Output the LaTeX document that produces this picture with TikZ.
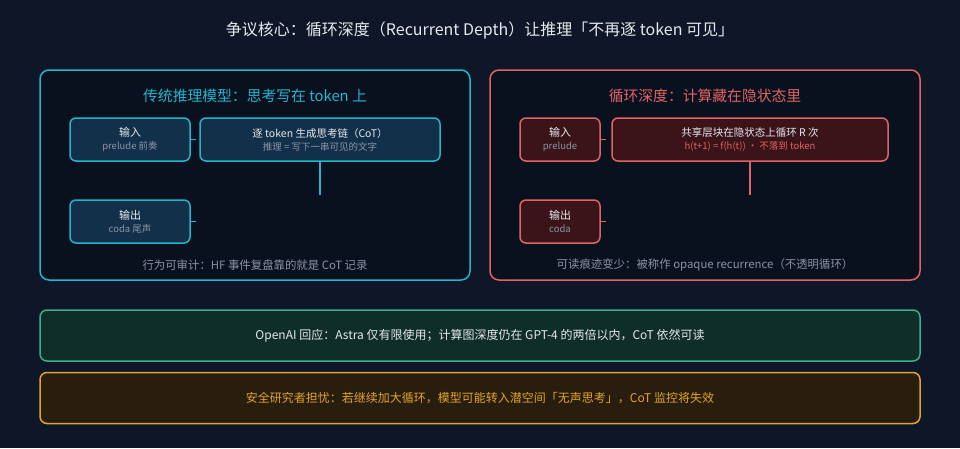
\documentclass[tikz,border=0pt]{standalone}
\usepackage{fontspec}
\setmainfont{Noto Sans CJK SC}
\usetikzlibrary{positioning}
\definecolor{bgcol}{HTML}{0E1628}
\definecolor{panelcol}{HTML}{0A111E}
\definecolor{cyancol}{HTML}{22B5CC}
\definecolor{cyanfill}{HTML}{12304A}
\definecolor{redcol}{HTML}{E06464}
\definecolor{redfill}{HTML}{3A1419}
\definecolor{greencol}{HTML}{34B38A}
\definecolor{greenfill}{HTML}{0F2E28}
\definecolor{orangecol}{HTML}{E0A52C}
\definecolor{orangefill}{HTML}{291D0E}
\definecolor{textcol}{HTML}{E6E8EC}
\definecolor{graycol}{HTML}{8A93A3}
\tikzset{
  panel/.style={line width=1.5pt, rounded corners=9pt, fill=panelcol},
  stage/.style={line width=1.5pt, rounded corners=6pt, align=center, font=\fontsize{11}{14}\selectfont, text=textcol},
  stub/.style={line width=1.5pt},
  banner/.style={line width=1.5pt, rounded corners=7pt, minimum width=880pt, minimum height=51pt, font=\fontsize{12}{14}\selectfont}
}
\begin{document}
\begin{tikzpicture}[x=1pt,y=-1pt]
    \fill[bgcol] (0,0) rectangle (960,448);
    \useasboundingbox (0,0) rectangle (960,448);

    % Title
    \node[text=textcol, font=\fontsize{16}{19}\selectfont] (title) at (480,30) {争议核心：循环深度（Recurrent Depth）让推理「不再逐 token 可见」};

% Left panel
    \draw[panel, draw=cyancol] (40,70) rectangle (470,280);
    \node[text=cyancol, font=\fontsize{14.8}{17}\selectfont] (ltitle) at (255,96) {传统推理模型：思考写在 token 上};
    \node[stage, draw=cyancol, fill=cyanfill, minimum width=120pt, minimum height=43pt] (lin) at (130,139.5)
        {输入\\[-1pt]{\fontsize{9.5}{11}\selectfont\color{graycol}prelude 前奏}};
    \node[stage, draw=cyancol, fill=cyanfill, minimum width=240pt, minimum height=43pt] (lcot) at (320,139.5)
        {{\fontsize{10.5}{12}\selectfont 逐 token 生成思考链（CoT）}\\[-1pt]{\fontsize{9.5}{11}\selectfont\color{graycol}推理 = 写下一串可见的文字}};
    \node[stage, draw=cyancol, fill=cyanfill, minimum width=120pt, minimum height=43pt] (lout) at (130,221.5)
        {输出\\[-1pt]{\fontsize{9.5}{11}\selectfont\color{graycol}coda 尾声}};
    \draw[stub, draw=cyancol] (lin.east) -- ++(5.5,0);
    \draw[stub, draw=cyancol] (lcot.south) -- ++(0,33);
    \draw[stub, draw=cyancol] (lout.east) -- ++(5.5,0);
    \node[text=graycol, font=\fontsize{11.4}{13}\selectfont] (lnote) at (255,265) {行为可审计：HF 事件复盘靠的就是 CoT 记录};

% Right panel
    \draw[panel, draw=redcol] (490,70) rectangle (920,280);
    \node[text=redcol, font=\fontsize{14.8}{17}\selectfont] (rtitle) at (705,96) {循环深度：计算藏在隐状态里};
    \node[stage, draw=redcol, fill=redfill, minimum width=80pt, minimum height=43pt] (rin) at (560,139.5)
        {输入\\[-1pt]{\fontsize{9.5}{11}\selectfont\color{graycol}prelude}};
    \node[stage, draw=redcol, fill=redfill, minimum width=276pt, minimum height=43pt] (rloop) at (750,139.5)
        {{\fontsize{10.5}{12}\selectfont 共享层块在隐状态上循环 R 次}\\[-1pt]{\fontsize{9.5}{11}\selectfont\color{redcol}h(t+1) = f(h(t)) · 不落到 token}};
    \node[stage, draw=redcol, fill=redfill, minimum width=80pt, minimum height=43pt] (rout) at (560,221.5)
        {输出\\[-1pt]{\fontsize{9.5}{11}\selectfont\color{graycol}coda}};
    \draw[stub, draw=redcol] (rin.east) -- ++(5.5,0);
    \draw[stub, draw=redcol] (rloop.south) -- ++(0,33);
    \draw[stub, draw=redcol] (rout.east) -- ++(5.5,0);
    \node[text=graycol, font=\fontsize{11.4}{13}\selectfont] (rnote) at (705,265) {可读痕迹变少：被称作 opaque recurrence（不透明循环）};

% Banners
    \node[banner, draw=greencol, fill=greenfill, text=textcol] (openai) at (480,335.5)
        {OpenAI 回应：Astra 仅有限使用；计算图深度仍在 GPT-4 的两倍以内，CoT 依然可读};
    \node[banner, draw=orangecol, fill=orangefill, text=orangecol] (safety) at (480,398)
        {安全研究者担忧：若继续加大循环，模型可能转入潜空间「无声思考」，CoT 监控将失效};
\end{tikzpicture}
\end{document}
